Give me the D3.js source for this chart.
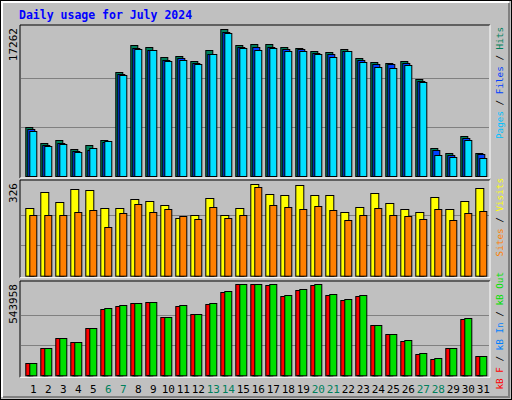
<!DOCTYPE html>
<html><head><meta charset="utf-8">
<script src="https://cdn.jsdelivr.net/npm/d3@7"></script>
<style>body{margin:0;background:#fff}</style>
</head><body><div id="vis"></div>
<script>
// daily values
let days = d3.range(1, 32)
let weekends = [6, 7, 13, 14, 20, 21, 27, 28]
let hits = [5728,3845,4198,3138,3609,4198,12240,15378,15143,13966,14084,13495,14790,17262,15378,15496,15496,15143,15025,14672,14554,14907,13848,13377,13260,13495,11377,3256,2668,4668,2668]
let files = [5493,3610,3845,2903,3021,3963,12005,15025,14790,13613,13848,13260,14319,16900,15143,15143,15143,14907,14907,14437,14319,14672,13613,13142,13142,13260,11142,3021,2433,4433,2550]
let pages = [5257,3491,3727,2785,3256,4080,11847,14907,14790,13495,13613,13142,14319,16790,15025,14790,15025,14672,14672,14319,13966,14672,13377,12789,12671,13024,11024,2432,2197,4198,2079]
let visits = [240,298,262,308,305,240,240,273,265,251,205,215,276,215,240,326,290,287,325,287,287,226,244,294,258,237,226,280,237,265,312]
let sites = [215,215,215,226,233,173,223,255,226,237,212,201,244,205,215,315,251,244,237,248,233,198,215,240,215,212,201,237,198,223,230]
let kbF = [71730,161393,221168,197258,280943,394515,412448,430380,436358,346695,412448,364628,424403,496133,543953,543953,537975,472223,508088,537975,478200,448313,472223,298875,245078,203235,125528,95640,161393,334740,113573]
let kbOut = [71730,161393,221168,197258,280943,400493,418425,430380,436358,346695,418425,364628,430380,502110,543958,543958,543953,478200,514065,543953,484178,454290,478200,298875,245078,209213,131505,101618,161393,340718,113573]
let kbIn = [900,700,600,500,600,900,1000,3500,3000,800,900,700,800,900,3800,3600,800,3000,900,800,800,3200,700,600,500,3100,600,500,600,700,500]

let W = 512, H = 400
let svg = d3.select('#vis').append('svg')
  .attr('width', W).attr('height', H)
  .style('font-family', 'DejaVu Sans Mono, monospace')

// background + 3d frame
svg.append('rect').attr('x', 0.5).attr('y', 0.5).attr('width', W - 1).attr('height', H - 1)
  .attr('fill', '#c0c0c0').attr('stroke', '#000')
svg.append('path').attr('d', 'M2,397V2H509').attr('fill', 'none').attr('stroke', '#fff').attr('stroke-width', 2)
svg.append('path').attr('d', 'M3,397H509V3').attr('fill', 'none').attr('stroke', '#808080').attr('stroke-width', 2)

svg.append('text').attr('x', 19).attr('y', 19).text('Daily usage for July 2024')
  .attr('fill', '#0000ff').attr('font-weight', 'bold').attr('font-size', 11.5)

let x = d3.scaleBand().domain(days).range([25.3, 25.3 + 15 * 31])

// panel frames, baseline, max label
function panel(top, base, max, scaleTop) {
  let y = d3.scaleLinear().domain([0, max]).range([base, scaleTop])
  svg.append('path').attr('d', `M20,${base + 2}V${top}H490`).attr('fill', 'none').attr('stroke', '#000')
  svg.append('path').attr('d', `M20,${base + 2}H490V${top}`).attr('fill', 'none').attr('stroke', '#fff')
  svg.selectAll(null).data([max / 3, max * 2 / 3]).join('line')
    .attr('x1', 21).attr('x2', 489)
    .attr('y1', d => Math.round(y(d)) + 0.5).attr('y2', d => Math.round(y(d)) + 0.5)
    .attr('stroke', '#808080')
  svg.append('text').attr('transform', `translate(17,${top + 3}) rotate(-90)`)
    .attr('text-anchor', 'end').attr('font-size', 11).text(max)
  return y
}

function bars(data, y, off, w, color) {
  svg.selectAll(null).data(data).join('rect')
    .attr('x', (d, i) => x(days[i]) + off + 0.5)
    .attr('y', d => Math.round(y(d)) + 0.5)
    .attr('width', w)
    .attr('height', d => Math.max(0, y(0) - Math.round(y(d))))
    .attr('fill', color).attr('stroke', '#000')
}

let y1 = panel(25, 176, 17262, 29.3)
bars(hits, y1, 0, 7, '#00805c')
bars(files, y1, 2, 7, '#0040ff')
bars(pages, y1, 4, 7, '#00e0ff')

let y2 = panel(180, 275.7, 326, 184.3)
bars(visits, y2, 0, 8, '#ffff00')
bars(sites, y2, 4, 7, '#ff8000')

let y3 = panel(281, 375.3, 543958, 284.3)
bars(kbF, y3, 0, 7, '#ff0000')
bars(kbIn, y3, 2, 2, '#0080ff')
bars(kbOut, y3, 4, 7, '#00e000')

// day labels
svg.selectAll(null).data(days).join('text')
  .attr('x', d => x(d) + 8).attr('y', 393)
  .attr('text-anchor', 'middle').attr('font-size', 11)
  .attr('fill', d => weekends.includes(d) ? '#00805c' : '#000')
  .text(d => d)

// right side legends (rotated, read bottom to top, ending at the top)
function legend(yTop, parts) {
  let t = svg.append('text').attr('transform', `translate(503,${yTop}) rotate(-90)`)
    .attr('font-size', 9.3).attr('text-anchor', 'end')
  parts.forEach(([s, c]) => t.append('tspan').attr('fill', c).text(s))
}
legend(27, [['Pages', '#00c0ff'], [' / ', '#000'], ['Files', '#0040ff'], [' / ', '#000'], ['Hits', '#00805c']])
legend(178, [['Sites', '#ff8000'], [' / ', '#000'], ['Visits', '#ffff00']])
legend(272, [['kB F', '#ff0000'], [' / ', '#000'], ['kB In', '#0080ff'], [' / ', '#000'], ['kB Out', '#00e000']])
</script>
</body></html>
